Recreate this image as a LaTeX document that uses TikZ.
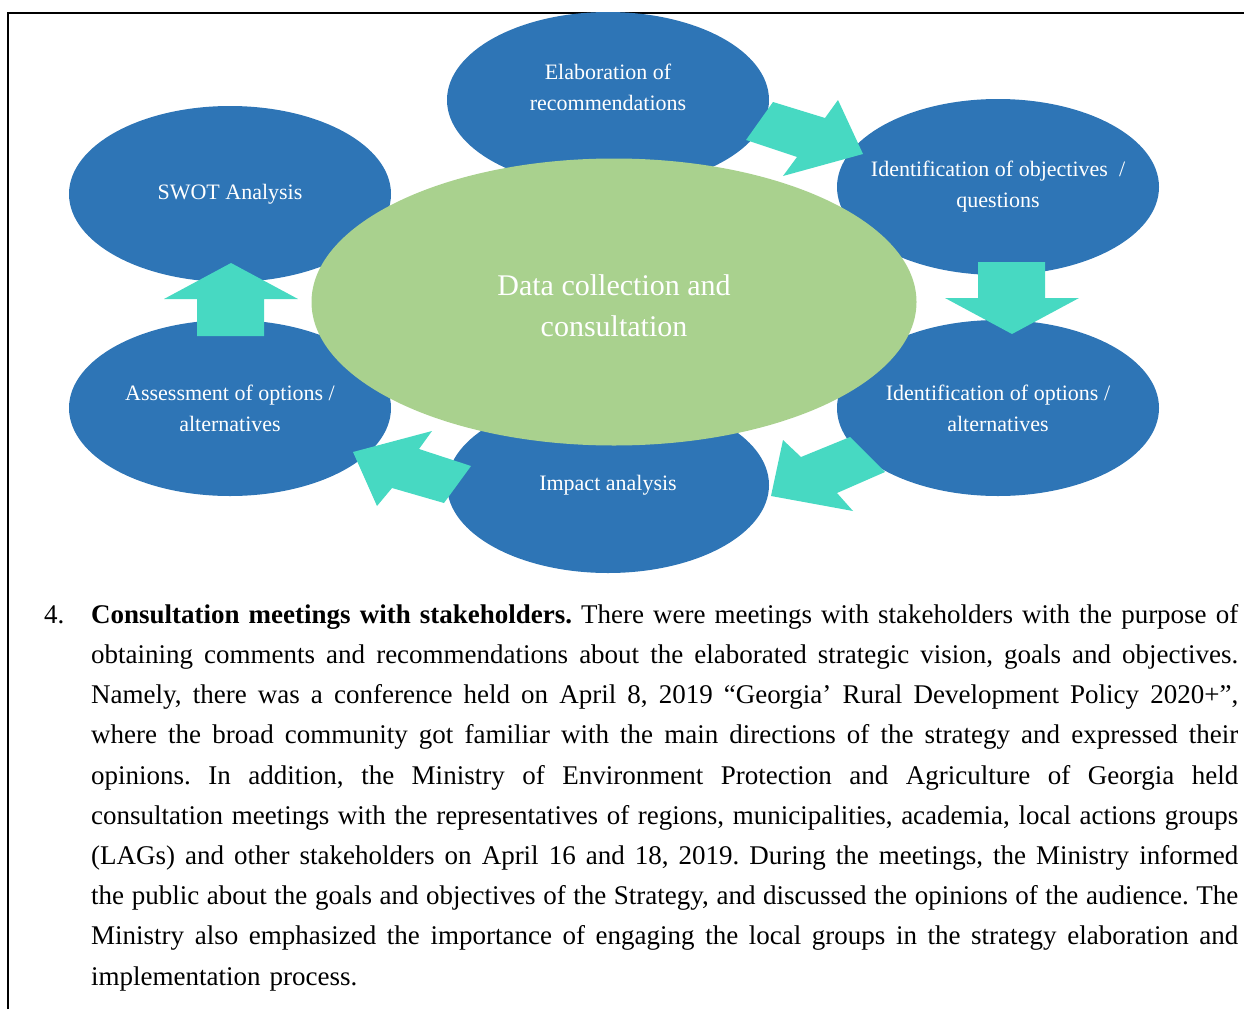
\documentclass[tikz,border=0pt]{standalone}
\usepackage{fontspec}
\setmainfont{Liberation Serif}
\usepackage{tikz}
\usetikzlibrary{shapes.geometric}
\definecolor{ovalblue}{HTML}{2E75B6}
\definecolor{coregreen}{HTML}{A9D18E}
\definecolor{flowteal}{HTML}{47D9C2}
\newcommand{\fullline}[1]{\noindent\hbox to 1147pt{\frenchspacing
  \spaceskip=0.25em plus 1em minus 0.05em\relax #1}}

\begin{document}
\begin{tikzpicture}[x=1pt,y=-1pt,
  oval/.style={ellipse,fill=ovalblue,inner sep=0pt,
    minimum width=322pt,minimum height=176pt},
  ovaltext/.style={text=white,align=center,inner sep=0pt,
    font=\fontsize{22}{31}\selectfont},
  flow/.style={fill=flowteal},
  bodytext/.style={font=\fontsize{27}{40.2}\selectfont,inner sep=0pt}]
  \useasboundingbox (0,0) rectangle (1244,1009);
  \draw[line width=2pt] (8,1009) |- (1244,13);

  \node[oval,label={[ovaltext,yshift=13pt]center:Elaboration of\\recommendations}]
    (elab) at (608,100) {};
  \node[oval,label={[ovaltext]center:SWOT Analysis}] (swot) at (230,194) {};
  \node[oval,label={[ovaltext]center:Identification of objectives~~/\\questions}]
    (objq) at (998,187) {};
  \node[oval,label={[ovaltext]center:Assessment of options /\\alternatives}]
    (assess) at (230,408) {};
  \node[oval,label={[ovaltext]center:Identification of options /\\alternatives}]
    (opts) at (998,408) {};
  \node[oval,label={[ovaltext]center:Impact analysis}] (impact) at (608,485) {};

  \node[ellipse,fill=coregreen,inner sep=0pt,minimum width=605pt,
    minimum height=287pt,
    label={[text=white,align=center,yshift=-4pt,
      font=\fontsize{30}{41}\selectfont]center:Data collection and\\consultation}]
    (core) at (614,302) {};

  \fill[flow] (773,102)--(825,118)--(838,100)--(863,154)--(783,176)
    --(797,157)--(746,140)--cycle;
  \fill[flow] (978,262)--(1045,262)--(1045,298)--(1079,298)--(1012,334)
    --(945,298)--(978,298)--cycle;
  \fill[flow] (850,437)--(885,472)--(837,493)--(853,511)--(771,496)
    --(783,440)--(801,457)--cycle;
  \fill[flow] (432,431)--(419,449)--(471,466)--(444,503)--(392,488)
    --(377,506)--(353,452)--cycle;
  \fill[flow] (231,263)--(298,299)--(264,299)--(264,336)--(197,336)
    --(197,299)--(164,299)--cycle;

  \node[bodytext,anchor=base west] (num) at (44,623) {4.};
  \node[bodytext,anchor=north west,text width=1147pt] (para) at (91,604) {%
    \fullline{\textbf{Consultation meetings with stakeholders.} There were meetings with stakeholders with the purpose of}\\
    \fullline{obtaining comments and recommendations about the elaborated strategic vision, goals and objectives.}\\
    \fullline{Namely, there was a conference held on April 8, 2019 “Georgia’ Rural Development Policy 2020+”,}\\
    \fullline{where the broad community got familiar with the main directions of the strategy and expressed their}\\
    \fullline{opinions. In addition, the Ministry of Environment Protection and Agriculture of Georgia held}\\
    \fullline{consultation meetings with the representatives of regions, municipalities, academia, local actions groups}\\
    \fullline{(LAGs) and other stakeholders on April 16 and 18, 2019. During the meetings, the Ministry informed}\\
    \fullline{the public about the goals and objectives of the Strategy, and discussed the opinions of the audience. The}\\
    \fullline{Ministry also emphasized the importance of engaging the local groups in the strategy elaboration and}\\
    \frenchspacing implementation process.};
\end{tikzpicture}
\end{document}
